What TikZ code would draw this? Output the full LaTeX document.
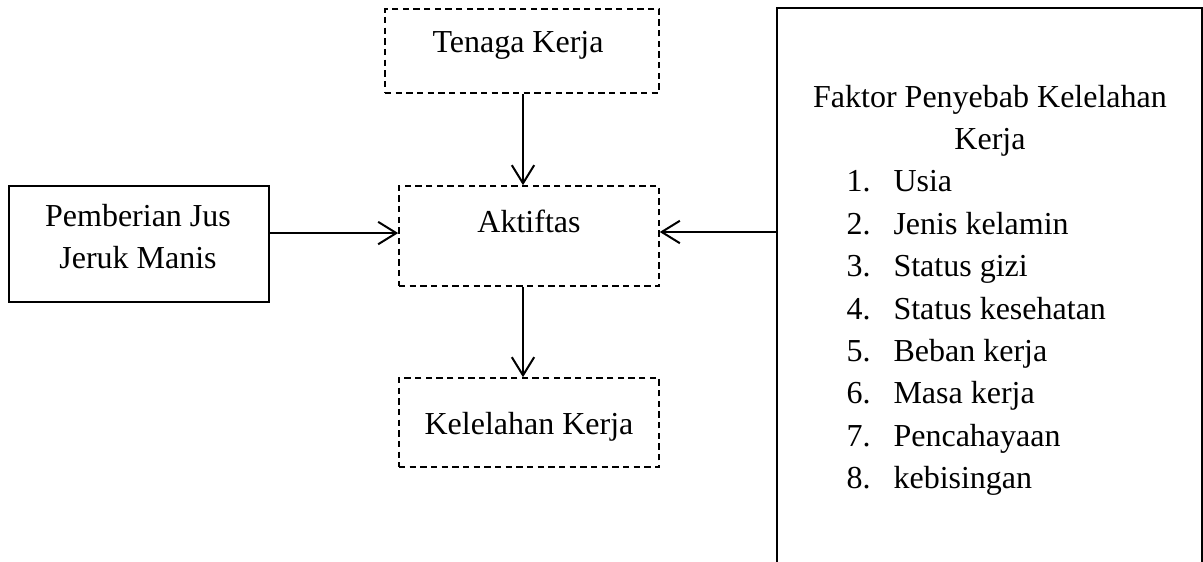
\documentclass[tikz,border=0pt]{standalone}
\usepackage{fontspec}
\setmainfont{Liberation Serif}
\usetikzlibrary{arrows.meta,fit}
\begin{document}
\begin{tikzpicture}[x=0.375pt,y=-0.375pt,
  box/.style={draw, line width=0.75pt, inner sep=0pt},
  dbox/.style={draw, line width=0.6pt, inner sep=0pt, dash pattern=on 2.4pt off 1.6pt},
  lbl/.style={anchor=base, inner sep=0pt, font=\fontsize{12}{15.9}\selectfont},
  itm/.style={anchor=base west, inner sep=0pt, font=\fontsize{12}{15.9}\selectfont},
  arr/.style={line width=0.75pt, -{Straight Barb[length=6.8pt,width=8.4pt,line width=0.75pt]}}]
\useasboundingbox (0,0) rectangle (1203,562);
\clip (0,0) rectangle (1203,562);
% boxes
\node[dbox, fit={(385,9) (659,93)}] (ten) {};
\node[dbox, fit={(399,186) (659,286)}] (akt) {};
\node[dbox, fit={(399,378) (659,467)}] (kel) {};
\node[box, fit={(9,186) (269,302)}] (pem) {};
\node[box, fit={(777,8) (1202,640)}] (fak) {};
% texts
\node[lbl] (tenT) at (518,53) {Tenaga Kerja};
\node[lbl] (aktT) at (529,233) {Aktiftas};
\node[lbl] (kelT) at (529,435) {Kelelahan Kerja};
\node[lbl] (pemT1) at (138,227) {Pemberian Jus};
\node[lbl] (pemT2) at (138,269) {Jeruk Manis};
\node[lbl] (fakT1) at (990,108) {Faktor Penyebab Kelelahan};
\node[lbl] (fakT2) at (990,150) {Kerja};
\foreach \n/\t [count=\i from 0] in {1/Usia,2/Jenis kelamin,3/Status gizi,4/Status kesehatan,5/Beban kerja,6/Masa kerja,7/Pencahayaan,8/kebisingan}{
  \node[itm] (num\n) at (846,192+42.4*\i) {\n.};
  \node[itm] (item\n) at (893,192+42.4*\i) {\t};
}
% connectors
\coordinate (aTop) at ([xshift=-2.25pt]akt.north);
\coordinate (aBot) at ([xshift=-2.25pt]akt.south);
\coordinate (aL) at ([yshift=1.1pt]akt.west);
\coordinate (aR) at ([yshift=1.5pt]akt.east);
\draw[arr] (ten.south -| aTop) -- (aTop);
\draw[arr] (aBot) -- (kel.north -| aBot);
\draw[arr] (pem.east |- aL) -- (aL);
\draw[arr] (fak.west |- aR) -- (aR);
\end{tikzpicture}
\end{document}
